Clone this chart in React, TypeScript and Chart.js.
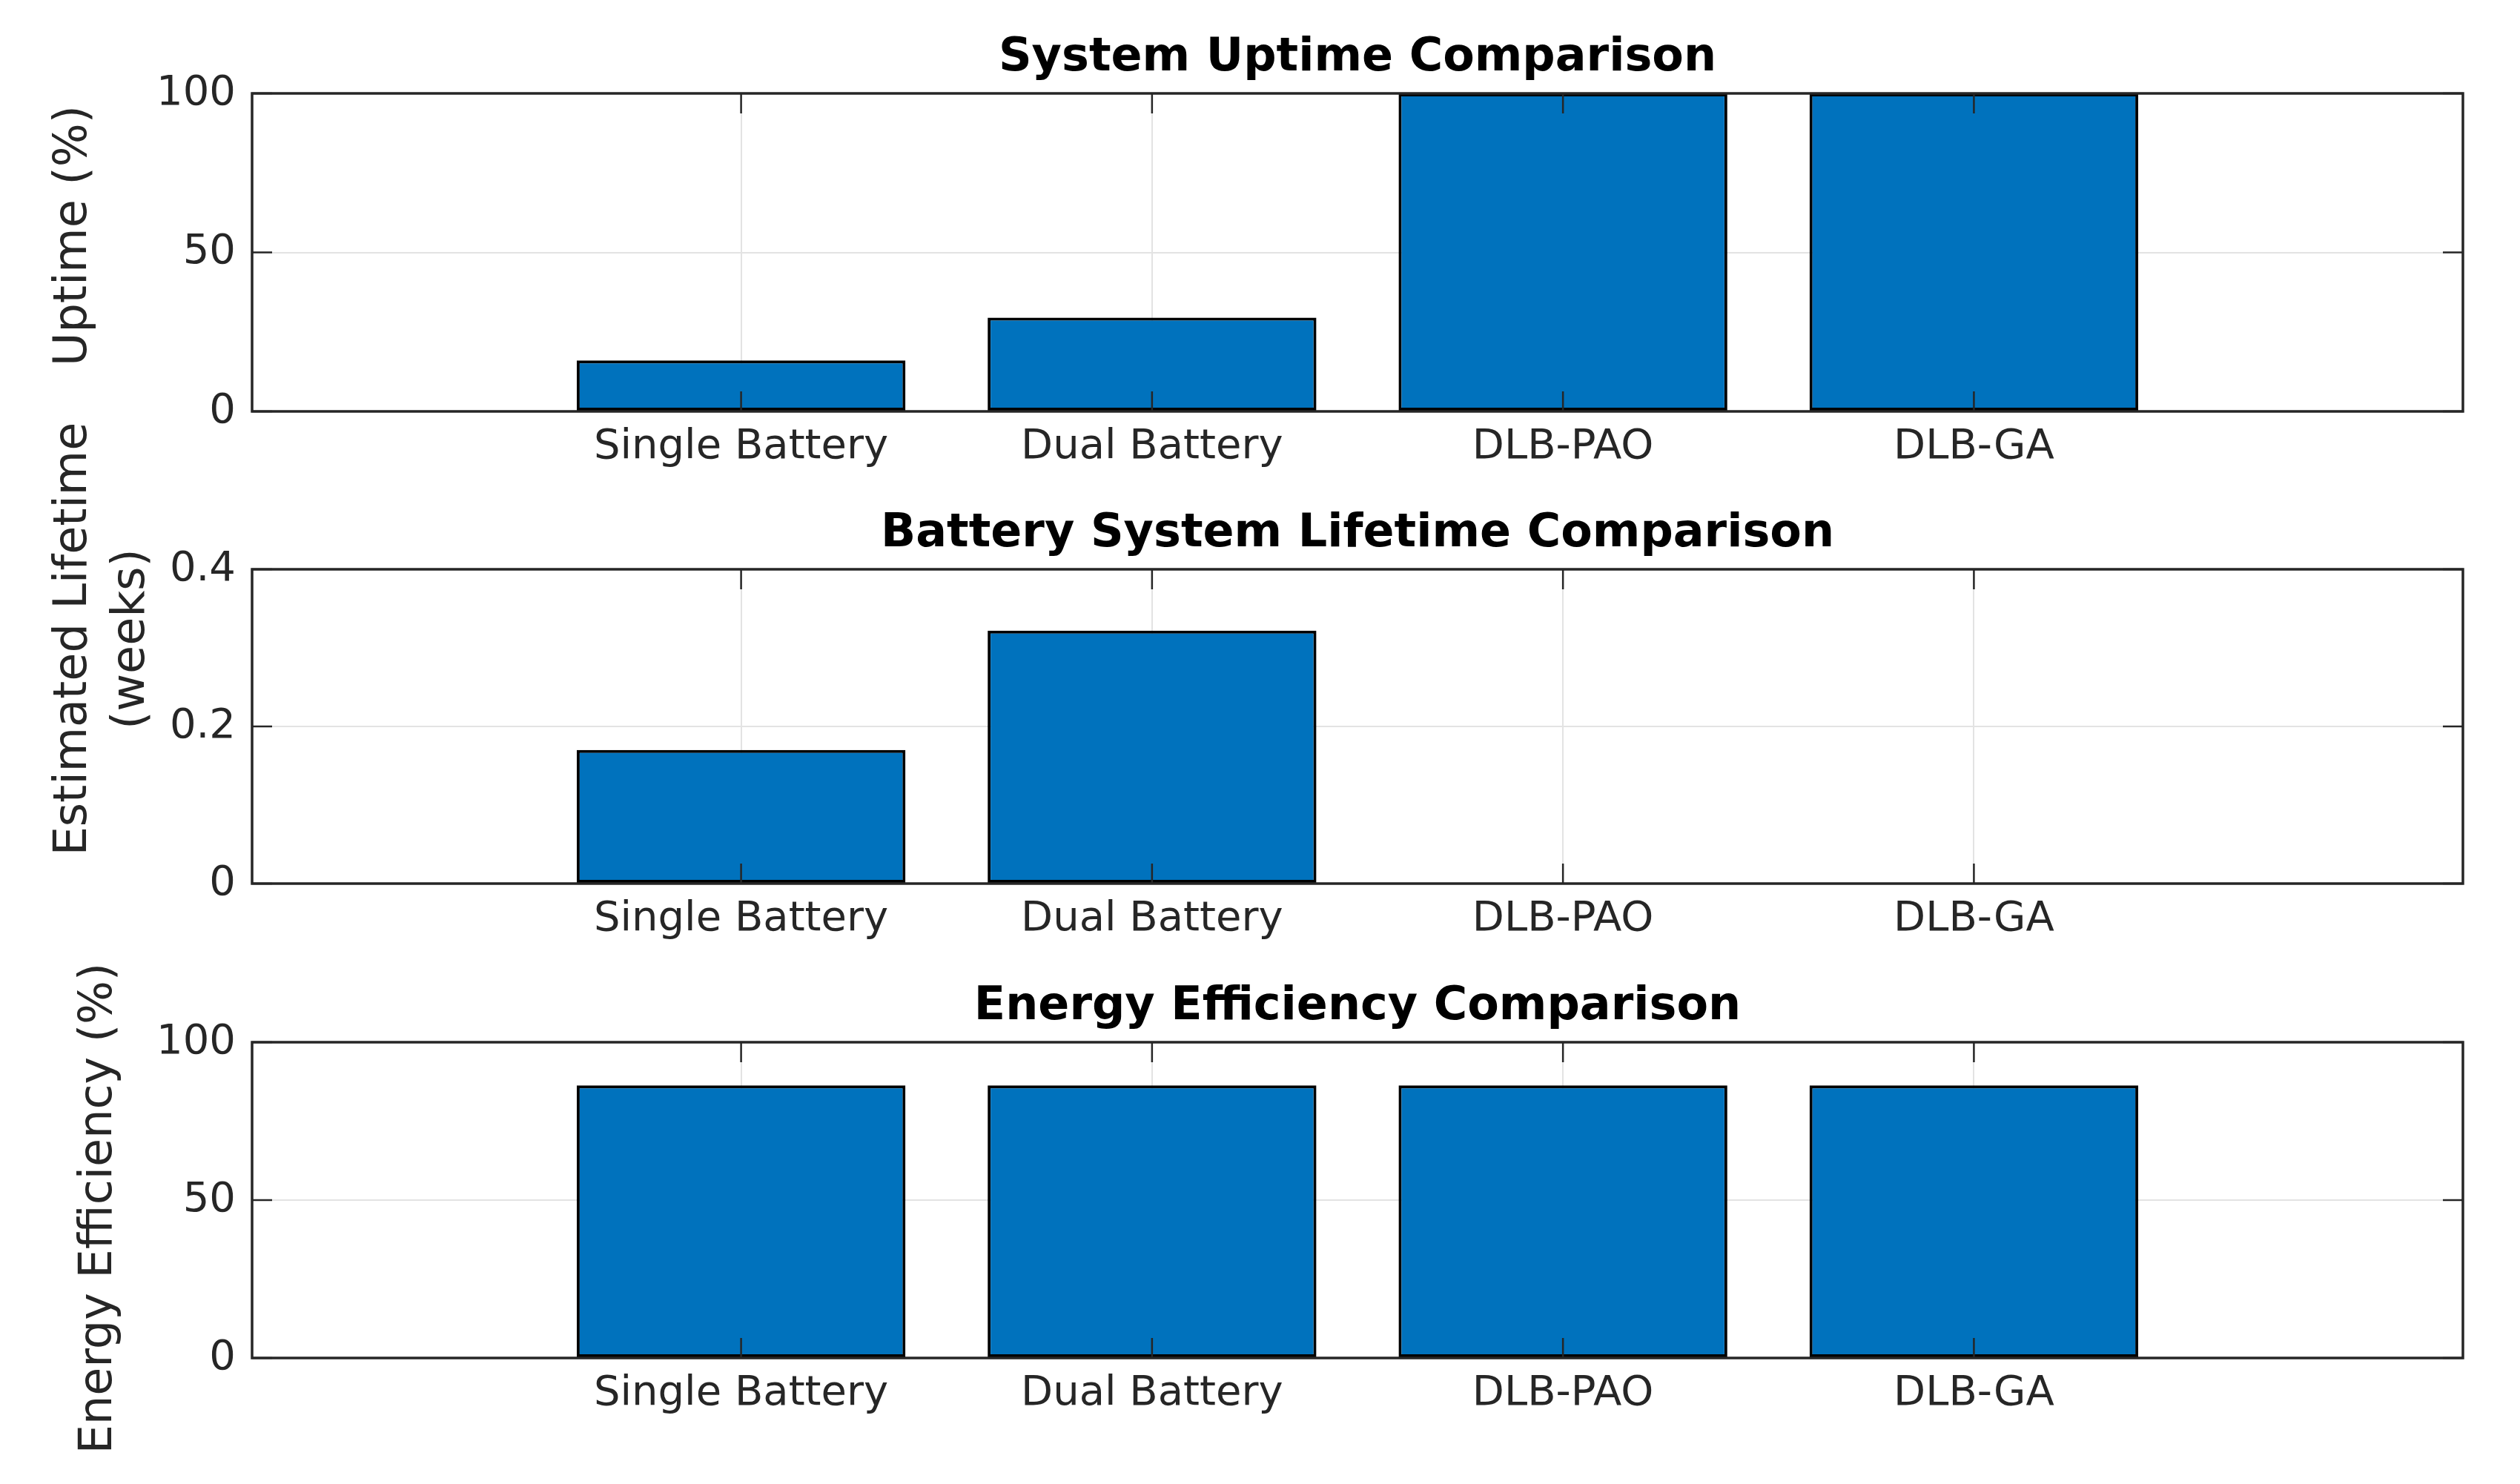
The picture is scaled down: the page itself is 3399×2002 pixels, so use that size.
import React, { useEffect, useRef } from 'react';
import { Chart, registerables } from 'chart.js';

Chart.register(...registerables);

// ---- data ----
const categories = ['Single Battery', 'Dual Battery', 'DLB-PAO', 'DLB-GA'];
const uptimeValues = [16, 29.5, 100, 100];
const lifetimeValues = [0.17, 0.322, 0, 0];
const efficiencyValues = [86.3, 86.3, 86.3, 86.3];
const uptimeTicks = [0, 50, 100];
const lifetimeTicks = [0, 0.2, 0.4];
const efficiencyTicks = [0, 50, 100];
const panelTitles = [
  'System Uptime Comparison',
  'Battery System Lifetime Comparison',
  'Energy Efficiency Comparison',
];
const yAxisLabels = [['Uptime (%)'], ['Estimated Lifetime', '(weeks)'], ['Energy Efficiency (%)']];

// ---- style / layout ----
const W = 3399;
const H = 2002;
const PLOT_LEFT = 340;
const PLOT_RIGHT = 3322;
const X_MIN = -0.19;
const X_MAX = 5.19;
const FONT = "'DejaVu Sans', 'Liberation Sans', sans-serif";
const BAR_COLOR = '#0072BD';
const AXIS_COLOR = '#262626';
const GRID_COLOR = '#e3e3e3';

const panelLayout = [
  { top: 126, bottom: 555, labelX: [100], labelY: 318 },
  { top: 768, bottom: 1192, labelX: [100, 178], labelY: 862 },
  { top: 1406, bottom: 1832, labelX: [134], labelY: 1630 },
];

const framePlugin = {
  id: 'matlabFrame',
  afterDatasetsDraw(chart: any) {
    const { ctx, chartArea: a, scales } = chart;
    const tl = 27;
    ctx.save();
    ctx.strokeStyle = AXIS_COLOR;
    ctx.lineWidth = 2.5;
    const line = (x1: number, y1: number, x2: number, y2: number) => {
      ctx.beginPath();
      ctx.moveTo(x1, y1);
      ctx.lineTo(x2, y2);
      ctx.stroke();
    };
    scales.x.ticks.forEach((t: any) => {
      const px = scales.x.getPixelForValue(t.value);
      line(px, a.bottom, px, a.bottom - tl);
      line(px, a.top, px, a.top + tl);
    });
    scales.y.ticks.forEach((t: any) => {
      const py = scales.y.getPixelForValue(t.value);
      line(a.left, py, a.left + tl, py);
      line(a.right, py, a.right - tl, py);
    });
    ctx.lineWidth = 3.5;
    ctx.strokeRect(a.left, a.top, a.right - a.left, a.bottom - a.top);
    ctx.restore();
  },
  afterDraw(chart: any, _args: any, opts: any) {
    const { ctx, chartArea: a } = chart;
    ctx.save();
    ctx.fillStyle = '#000000';
    ctx.font = `bold 62px ${FONT}`;
    ctx.textAlign = 'center';
    ctx.textBaseline = 'alphabetic';
    ctx.fillText(opts.title, (a.left + a.right) / 2, a.top - 31);
    ctx.fillStyle = AXIS_COLOR;
    ctx.font = `62px ${FONT}`;
    ctx.textBaseline = 'middle';
    (opts.ylabel as string[]).forEach((txt, i) => {
      ctx.save();
      ctx.translate(opts.labelX[i], opts.labelY);
      ctx.rotate(-Math.PI / 2);
      ctx.fillText(txt, 0, 0);
      ctx.restore();
    });
    ctx.restore();
  },
};

function makeConfig(values: number[], yTicks: number[], idx: number) {
  const lay = panelLayout[idx];
  return {
    type: 'bar' as const,
    data: {
      datasets: [
        {
          data: values.map((v, i) => ({ x: i + 1, y: v })),
          backgroundColor: BAR_COLOR,
          borderColor: '#000000',
          borderWidth: 4,
          borderSkipped: false,
          barPercentage: 1,
          categoryPercentage: 0.8,
        },
      ],
    },
    options: {
      responsive: false,
      animation: false as const,
      devicePixelRatio: 1,
      layout: { padding: { top: lay.top, left: 0, right: W - PLOT_RIGHT, bottom: 0 } },
      plugins: {
        legend: { display: false },
        tooltip: { enabled: false },
        title: { display: false },
        matlabFrame: {
          title: panelTitles[idx],
          ylabel: yAxisLabels[idx],
          labelX: lay.labelX,
          labelY: lay.labelY,
        },
      },
      scales: {
        x: {
          type: 'linear' as const,
          min: X_MIN,
          max: X_MAX,
          offset: false,
          border: { display: false },
          grid: { color: GRID_COLOR, lineWidth: 2, drawTicks: false, offset: false },
          afterBuildTicks: (scale: any) => {
            scale.ticks = categories.map((_, i) => ({ value: i + 1 }));
          },
          ticks: {
            padding: 15,
            color: AXIS_COLOR,
            font: { family: FONT, size: 56 },
            maxRotation: 0,
            autoSkip: false,
            callback: (v: any) => categories[Number(v) - 1] ?? '',
          },
          afterFit: (scale: any) => {
            scale.height = H - lay.bottom;
            scale.paddingLeft = 0;
            scale.paddingRight = 0;
          },
        },
        y: {
          type: 'linear' as const,
          min: yTicks[0],
          max: yTicks[yTicks.length - 1],
          border: { display: false },
          grid: { color: GRID_COLOR, lineWidth: 2, drawTicks: false },
          afterBuildTicks: (scale: any) => {
            scale.ticks = yTicks.map((v) => ({ value: v }));
          },
          ticks: {
            padding: 22,
            color: AXIS_COLOR,
            font: { family: FONT, size: 56 },
            callback: (v: any) => String(Number(v)),
          },
          afterFit: (scale: any) => {
            scale.width = PLOT_LEFT;
            scale.paddingTop = 0;
            scale.paddingBottom = 0;
          },
        },
      },
    },
    plugins: [framePlugin],
  };
}

export default function App() {
  const r1 = useRef<HTMLCanvasElement>(null);
  const r2 = useRef<HTMLCanvasElement>(null);
  const r3 = useRef<HTMLCanvasElement>(null);

  useEffect(() => {
    const charts = [
      new Chart(r1.current as HTMLCanvasElement, makeConfig(uptimeValues, uptimeTicks, 0) as any),
      new Chart(r2.current as HTMLCanvasElement, makeConfig(lifetimeValues, lifetimeTicks, 1) as any),
      new Chart(r3.current as HTMLCanvasElement, makeConfig(efficiencyValues, efficiencyTicks, 2) as any),
    ];
    return () => charts.forEach((c) => c.destroy());
  }, []);

  const cs: React.CSSProperties = {
    position: 'absolute',
    left: 0,
    top: 0,
    width: W,
    height: H,
  };

  return (
    <div style={{ position: 'absolute', left: 0, top: 0, width: W, height: H, background: '#ffffff' }}>
      <canvas ref={r1} width={W} height={H} style={cs} />
      <canvas ref={r2} width={W} height={H} style={cs} />
      <canvas ref={r3} width={W} height={H} style={cs} />
    </div>
  );
}
